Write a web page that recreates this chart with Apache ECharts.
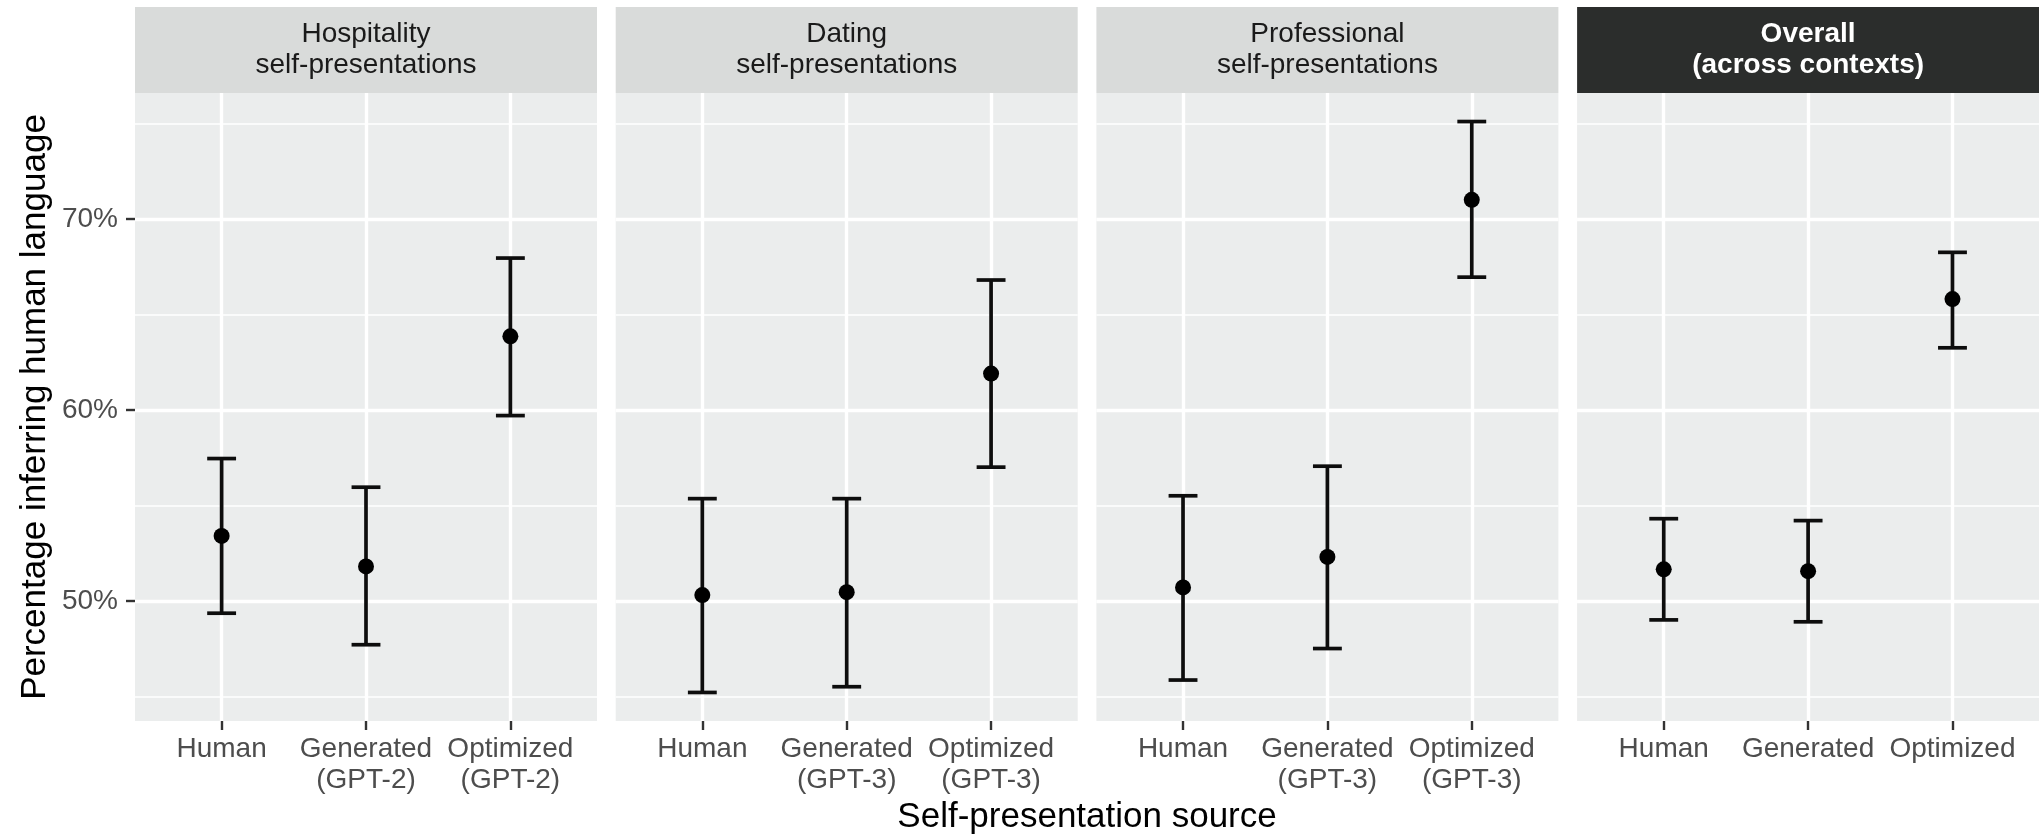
<!DOCTYPE html>
<html>
<head>
<meta charset="utf-8">
<script src="https://cdn.jsdelivr.net/npm/echarts@6/dist/echarts.min.js"></script>
<style>
  html, body { margin: 0; padding: 0; background: #ffffff; }
  #chart { width: 2039px; height: 836px; }
</style>
</head>
<body>
<div id="chart"></div>
<script>
// Facet strips, one per self-presentation context
const facetTitles = [
  'Hospitality\nself-presentations',
  'Dating\nself-presentations',
  'Professional\nself-presentations',
  'Overall\n(across contexts)'
];

// Source categories shown under each facet
const sourceLabels = [
  ['Human', 'Generated\n(GPT-2)', 'Optimized\n(GPT-2)'],
  ['Human', 'Generated\n(GPT-3)', 'Optimized\n(GPT-3)'],
  ['Human', 'Generated\n(GPT-3)', 'Optimized\n(GPT-3)'],
  ['Human', 'Generated', 'Optimized']
];

// Percentage inferring human language: point estimate and 95% CI bounds
const estimates = [
  [53.4, 51.8, 63.85],
  [50.3, 50.45, 61.9],
  [50.7, 52.3, 71.0],
  [51.65, 51.55, 65.8]
];
const lowerCI = [
  [49.35, 47.7, 59.7],
  [45.2, 45.5, 57.0],
  [45.85, 47.5, 66.95],
  [49.0, 48.9, 63.25]
];
const upperCI = [
  [57.45, 55.95, 67.95],
  [55.35, 55.35, 66.8],
  [55.5, 57.05, 75.1],
  [54.3, 54.2, 68.25]
];

const majorTicks = [50, 60, 70];
const minorTicks = [45, 55, 65, 75];

const FONT = '"Liberation Sans", Arial, Helvetica, sans-serif';
const L = {
  left: 135, top: 93, width: 462, height: 628, gap: 18.7,
  stripTop: 7, stripHeight: 86
};
const CAP_WIDTH = 0.2;

// y range: full CI span padded by 5% on each side
const lo = Math.min(...lowerCI.flat());
const hi = Math.max(...upperCI.flat());
const pad = (hi - lo) * 0.05;
const yMin = lo - pad;
const yMax = hi + pad;

const tickStyle = { color: '#333333', width: 2.4 };
const grids = [], xAxes = [], yAxes = [], series = [], graphics = [];

facetTitles.forEach((title, i) => {
  const left = L.left + i * (L.width + L.gap);
  grids.push({
    left: left, top: L.top, width: L.width, height: L.height,
    show: true, backgroundColor: '#EBEDED', borderWidth: 0,
    containLabel: false, outerBoundsMode: 'none'
  });

  xAxes.push({
    type: 'value', gridIndex: i, min: 0.4, max: 3.6,
    axisLine: { show: false },
    axisTick: { show: true, customValues: [1, 2, 3], length: 9, lineStyle: tickStyle },
    axisLabel: {
      customValues: [1, 2, 3],
      formatter: v => sourceLabels[i][Math.round(v) - 1],
      color: '#4D4D4D', fontSize: 28, lineHeight: 31, margin: 13,
      fontFamily: FONT
    },
    splitLine: { show: true, lineStyle: { color: '#ffffff', width: 3.4 } }
  });

  // major y axis: labels, ticks and major grid
  yAxes.push({
    type: 'value', gridIndex: i, min: yMin, max: yMax,
    axisLine: { show: false },
    axisTick: { show: i === 0, customValues: majorTicks, length: 9, lineStyle: tickStyle },
    axisLabel: {
      show: i === 0, customValues: majorTicks, formatter: v => Math.round(v) + '%',
      color: '#4D4D4D', fontSize: 28, margin: 17, fontFamily: FONT
    },
    splitLine: { show: true, lineStyle: { color: '#ffffff', width: 3.4 } },
    name: i === 0 ? 'Percentage inferring human language' : '',
    nameLocation: 'middle', nameGap: 82,
    nameTextStyle: { color: '#000000', fontSize: 35, fontFamily: FONT }
  });
  // minor y grid
  yAxes.push({
    type: 'value', gridIndex: i, min: yMin, max: yMax, position: 'right',
    axisLine: { show: false },
    axisTick: { show: false, customValues: minorTicks },
    axisLabel: { show: false, customValues: minorTicks },
    splitLine: { show: true, lineStyle: { color: '#ffffff', width: 1.7 } }
  });

  series.push({
    type: 'custom', xAxisIndex: i, yAxisIndex: 2 * i, z: 3,
    data: estimates[i].map((_, k) => [k + 1, lowerCI[i][k], upperCI[i][k]]),
    encode: { x: 0, y: [1, 2] },
    renderItem: (params, api) => {
      const x = api.value(0);
      const top = api.coord([x, api.value(2)]);
      const bot = api.coord([x, api.value(1)]);
      const half = api.size([CAP_WIDTH, 0])[0] / 2;
      const style = { stroke: '#0D0D0D', lineWidth: 3.7, fill: null };
      return {
        type: 'group',
        children: [
          { type: 'line', shape: { x1: top[0], y1: top[1], x2: bot[0], y2: bot[1] }, style },
          { type: 'line', shape: { x1: top[0] - half, y1: top[1], x2: top[0] + half, y2: top[1] }, style },
          { type: 'line', shape: { x1: bot[0] - half, y1: bot[1], x2: bot[0] + half, y2: bot[1] }, style }
        ]
      };
    }
  });
  series.push({
    type: 'scatter', xAxisIndex: i, yAxisIndex: 2 * i, z: 4,
    data: estimates[i].map((v, k) => [k + 1, v]),
    symbol: 'circle', symbolSize: 16,
    itemStyle: { color: '#000000', opacity: 1 }
  });

  // facet strip
  const overall = i === facetTitles.length - 1;
  graphics.push({
    type: 'rect',
    shape: { x: left, y: L.stripTop, width: L.width, height: L.stripHeight },
    style: { fill: overall ? '#2B2D2C' : '#D9DBDA' }
  });
  graphics.push({
    type: 'text',
    x: left + L.width / 2, y: L.stripTop + L.stripHeight / 2,
    style: {
      text: title,
      font: (overall ? 'bold ' : '') + '28px ' + FONT,
      fill: overall ? '#ffffff' : '#1A1A1A',
      textAlign: 'center', textVerticalAlign: 'middle',
      align: 'center', verticalAlign: 'middle',
      lineHeight: 31
    }
  });
});

// shared x-axis title centred under all facets
const panelsRight = L.left + facetTitles.length * L.width + (facetTitles.length - 1) * L.gap;
graphics.push({
  type: 'text',
  x: (L.left + panelsRight) / 2, y: 817,
  style: {
    text: 'Self-presentation source',
    font: '35px ' + FONT, fill: '#000000',
    textAlign: 'center', textVerticalAlign: 'middle',
    align: 'center', verticalAlign: 'middle'
  }
});

const chart = echarts.init(document.getElementById('chart'), null, { renderer: 'canvas' });
chart.setOption({
  animation: false,
  backgroundColor: '#ffffff',
  grid: grids,
  xAxis: xAxes,
  yAxis: yAxes,
  series: series,
  graphic: { elements: graphics }
});
</script>
</body>
</html>
